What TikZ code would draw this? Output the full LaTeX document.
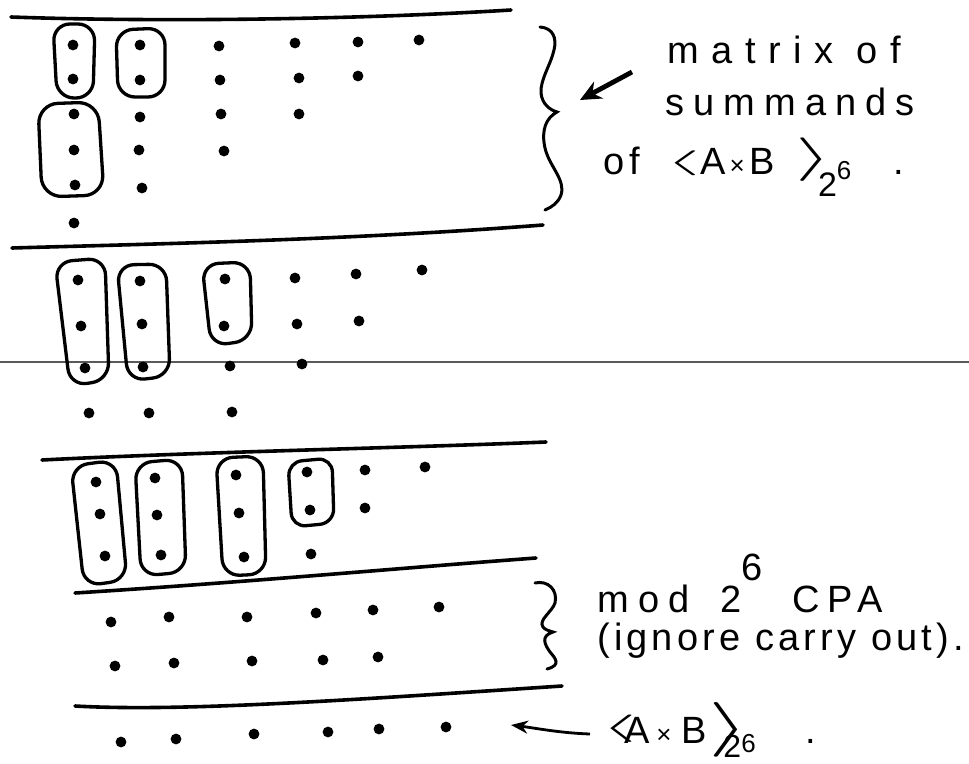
\documentclass[tikz,border=0pt]{standalone}
\usepackage{fontspec}
\newfontfamily\hand{Liberation Sans}
\usetikzlibrary{arrows.meta}
\tikzset{
  rule/.style={line width=3.6pt, line cap=round},
  oval/.style={line width=3.3pt, rounded corners=17pt},
  brc/.style={line width=3pt, line cap=round},
  lbl/.style={anchor=base west, inner sep=0pt, font=\hand\fontsize{38}{44}\selectfont},
}
\newcommand\mydots[1]{\foreach \p in {#1} \fill \p circle (5.4pt);}
\newcommand\sz[1]{\fontsize{#1}{#1}\selectfont}
\begin{document}
\begin{tikzpicture}[x=1pt,y=-1pt]
\useasboundingbox (0,0) rectangle (969,763);
% scan line
\draw[line width=1.5pt, black!65] (0,362) -- (969,362);
% horizontal rules
\draw[rule] (11,17) .. controls (150,22) and (350,20) .. (511,10);
\draw[rule] (12,248) .. controls (150,244) and (350,240) .. (543,225);
\draw[rule] (42,460) .. controls (200,452) and (400,448) .. (546,442);
\draw[rule] (75,593) .. controls (250,582) and (400,568) .. (536,558);
\draw[rule] (75,706) .. controls (180,712) and (350,700) .. (562,686);
% section 1 dots
\mydots{(73,45),(73,79),(74,114),(74,150),(75,185),(74,223),
      (140,45),(140,80),(140,117),(139,150),(142,188),
      (219,46),(220,80),(221,114),(224,151),
      (295,43),(299,78),(299,114),
      (358,42),(358,76),
      (419,40)}
\draw[oval] (53,24) -- (95,24) -- (93,98) -- (57,98) -- cycle;
\draw[oval] (116,30) -- (165,28) -- (165,97) -- (118,97) -- cycle;
\draw[oval,rounded corners=20pt] (38,104) -- (98,102) -- (104,195) -- (42,197) -- cycle;
% section 2 dots
\mydots{(78,280),(81,326),(85,368),(89,413),
      (140,281),(142,324),(143,367),(149,413),
      (225,279),(224,326),(230,366),(232,412),
      (295,278),(297,324),(302,364),
      (356,274),(359,321),
      (422,270)}
\draw[oval] (55,262) -- (105,258) -- (109,380) -- (70,386) -- cycle;
\draw[oval] (117,265) -- (166,264) -- (170,376) -- (128,381) -- cycle;
\draw[oval] (202,264) -- (250,262) -- (252,340) -- (211,346) -- cycle;
% section 3 dots
\mydots{(96,482),(100,514),(105,556),
      (155,478),(157,515),(161,555),
      (236,475),(239,513),(244,557),
      (307,472),(310,510),(311,554),
      (365,470),(365,508),
      (425,467)}
\draw[oval] (71,466) -- (116,460) -- (127,580) -- (84,586) -- cycle;
\draw[oval] (135,463) -- (182,459) -- (186,572) -- (141,576) -- cycle;
\draw[oval] (216,458) -- (263,456) -- (266,574) -- (223,576) -- cycle;
\draw[oval,rounded corners=14pt] (288,462) -- (332,458) -- (334,523) -- (292,527) -- cycle;
% section 4 dots
\mydots{(111,622),(169,617),(247,617),(316,613),(373,610),(439,607),
      (115,666),(174,663),(252,661),(323,660),(378,657)}
% result dots
\mydots{(121,742),(176,739),(254,734),(328,732),(379,729),(446,727)}
% braces
\draw[brc] (540,27) .. controls (553,28) and (557,38) .. (554,50)
  .. controls (551,64) and (540,80) .. (541,93)
  .. controls (542,104) and (550,110) .. (557,112)
  .. controls (546,118) and (541,130) .. (545,148)
  .. controls (549,166) and (566,180) .. (561,195)
  .. controls (558,203) and (552,207) .. (545,210);
\draw[brc] (535,583) .. controls (548,580) and (558,590) .. (555,603)
  .. controls (552,612) and (538,620) .. (543,627)
  .. controls (545,630) and (550,631) .. (553,632)
  .. controls (540,636) and (545,645) .. (550,652)
  .. controls (555,658) and (562,665) .. (547,669);
% labels
\node[lbl] (t1) at (667,63) {\addfontfeature{LetterSpace=33}matrix of};
\node[lbl] (t2) at (665,115) {\addfontfeature{LetterSpace=24}summands};
\node[lbl] (t3) at (603,174) {{\addfontfeature{LetterSpace=15}of}\hspace{24pt}\raisebox{5pt}{\scalebox{3.7}[1.0]{$\langle$}}A\hspace{4pt}{\sz{26}×}\hspace{5pt}B\hspace{20pt}\raisebox{4pt}{\scalebox{3.8}[1.75]{$\rangle$}}\hspace{-14pt}\raisebox{-22pt}{\sz{34}2}\raisebox{-5pt}{\sz{26}6}\hspace{42pt}.};
\node[lbl] (t4) at (597,612) {{\addfontfeature{LetterSpace=25}mod}\hspace{30pt}2\raisebox{32pt}{6}\hspace{30pt}{\addfontfeature{LetterSpace=20}CPA}};
\node[lbl] (t5) at (597,650) {\addfontfeature{LetterSpace=11}(ignore carry out).};
\node[lbl] (t6) at (600,743) {\raisebox{8pt}{\scalebox{3.8}[1.1]{$\langle$}}\hspace{-12pt}A\hspace{6pt}{\sz{26}×}\hspace{10pt}B\hspace{2pt}\scalebox{4.2}[2.2]{$\rangle$}\hspace{-26pt}\raisebox{-14pt}{\sz{32}2}\raisebox{-9pt}{\sz{26}6}\hspace{50pt}.};
% arrows
\coordinate (a1s) at (632,72);
\coordinate (a1e) at (580,100);
\draw[line width=4.8pt, -{Stealth[length=21pt,width=19pt]}] (a1s) -- (a1e);
\coordinate (a2s) at (590,734);
\coordinate (a2e) at (511,725);
\draw[line width=2.8pt, -{Stealth[length=17pt,width=13pt]}] (a2s) .. controls (560,733) and (535,728) .. (a2e);
\end{tikzpicture}
\end{document}
